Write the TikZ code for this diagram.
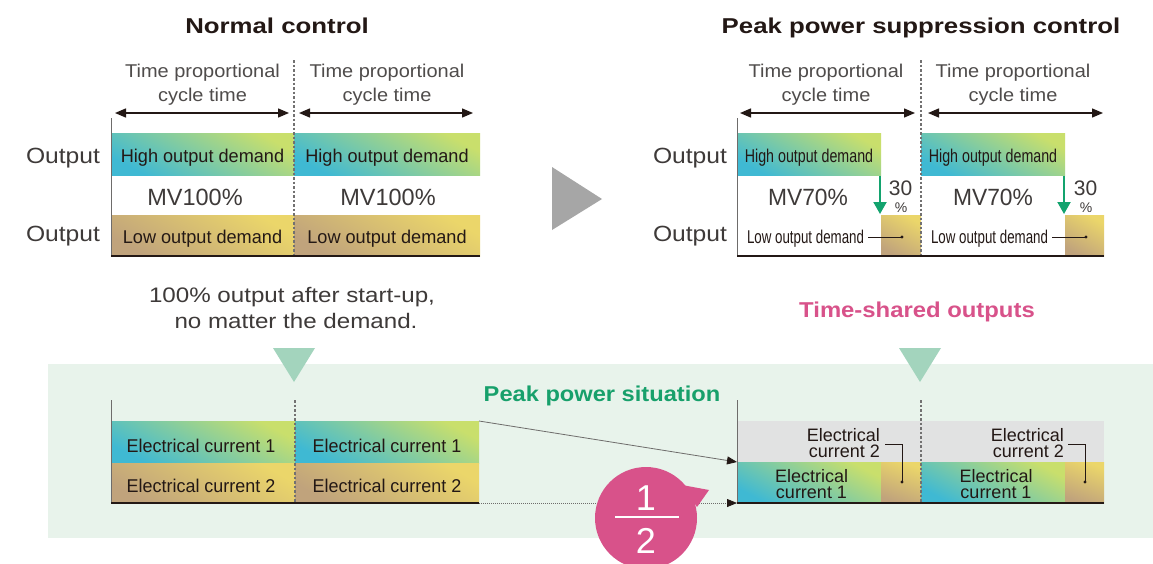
\documentclass[tikz,border=0pt]{standalone}
\usepackage{fontspec}
\setmainfont{Liberation Sans}
\usepackage{graphicx}
\usetikzlibrary{arrows.meta}
\definecolor{txtc}{HTML}{3E3A39}
\definecolor{dark}{HTML}{231815}
\definecolor{cycc}{HTML}{4F4C4B}
\definecolor{axisc}{HTML}{6E6C6B}
\definecolor{cyanc}{HTML}{3FB9D3}
\definecolor{limec}{HTML}{C9DF6C}
\definecolor{tanc}{HTML}{C0A37C}
\definecolor{yelc}{HTML}{EBD66A}
\definecolor{greyband}{HTML}{E1E2E2}
\definecolor{bandc}{HTML}{E8F3EB}
\definecolor{trigreen}{HTML}{A3D4BD}
\definecolor{pinkc}{HTML}{D8528A}
\definecolor{greentxt}{HTML}{17A06B}
\definecolor{arrowgreen}{HTML}{13A36E}
\definecolor{greytri}{HTML}{A6A6A6}
\definecolor{divc}{HTML}{727171}
\newcommand\fs[1]{\fontsize{#1}{#1}\selectfont}
\newcommand\hx[2]{\scalebox{#1}[1]{#2}}
\tikzset{
  barbase/.style={rectangle, draw=none, inner sep=0pt, outer sep=0pt, anchor=north west},
  hibar/.style={barbase, bottom color=cyanc, top color=limec, shading angle=-28},
  lobar/.style={barbase, bottom color=tanc, top color=yelc, shading angle=-30},
  c2blk/.style={barbase, bottom color=tanc, top color=yelc, shading angle=-20},
  gband/.style={barbase, fill=greyband},
  txt/.style={inner sep=0pt, anchor=base, text=txtc},
  ttl/.style={txt, text=dark, font=\bfseries\fs{21.5}},
  cyc/.style={txt, text=cycc, font=\fs{18.5}},
  outlbl/.style={txt, text=txtc, font=\fs{22}},
  mvlbl/.style={txt, text=txtc, font=\fs{23.5}},
  barlbl/.style={txt, text=dark, font=\fs{18.5}},
  curlbl/.style={inner sep=0pt, text=dark, font=\fontsize{18}{16}\selectfont},
  axisline/.style={draw=axisc, line width=1pt},
  baseln/.style={draw=dark, line width=1.4pt},
  divider/.style={draw=divc, line width=1.2pt, dash pattern=on 2.5pt off 2pt},
  dblarrow/.style={draw=dark, line width=1.4pt, {Triangle[length=11pt,width=9pt]}-{Triangle[length=11pt,width=9pt]}},
  garrow/.style={draw=arrowgreen, line width=2pt, -{Triangle[length=12pt,width=13pt]}},
  leader/.style={draw=dark, line width=0.8pt},
  linkarrow/.style={draw=axisc, line width=0.8pt, -{Triangle[length=10pt,width=8pt,color=dark]}},
  dotlink/.style={draw=axisc, line width=0.8pt, dash pattern=on 1pt off 1pt, -{Triangle[length=10pt,width=8pt,color=dark]}},
}
\begin{document}
\begin{tikzpicture}[x=1pt,y=-1pt]
\useasboundingbox (0,0) rectangle (1153,563);
\fill[white] (0,0) rectangle (1153,563);

% ---------- titles ----------
\node[ttl] (t1) at (277,33) {\hx{1.2}{Normal control}};
\node[ttl] (t2) at (921,33) {\hx{1.2}{Peak power suppression control}};

% ---------- top left chart ----------
\node[cyc] (cl1) at (202.5,77) {\hx{1.08}{Time proportional}};
\node[cyc] (cl2) at (202.5,101) {\hx{1.08}{cycle time}};
\node[cyc] (cl3) at (387,77) {\hx{1.08}{Time proportional}};
\node[cyc] (cl4) at (387,101) {\hx{1.08}{cycle time}};
\coordinate (la1) at (115,113); \coordinate (la2) at (289,113);
\coordinate (la3) at (299,113); \coordinate (la4) at (473,113);
\draw[dblarrow] (la1) -- (la2);
\draw[dblarrow] (la3) -- (la4);

\node[hibar, minimum width=183, minimum height=42] (lh1) at (111,133) {};
\node[hibar, minimum width=186, minimum height=42] (lh2) at (294,133) {};
\node[lobar, minimum width=183, minimum height=41] (ll1) at (111,215) {};
\node[lobar, minimum width=186, minimum height=41] (ll2) at (294,215) {};
\node[barlbl] (lht1) at (202.5,162) {\hx{0.98}{High output demand}};
\node[barlbl] (lht2) at (387,162) {\hx{0.98}{High output demand}};
\node[barlbl] (llt1) at (202.5,243) {\hx{0.98}{Low output demand}};
\node[barlbl] (llt2) at (387,243) {\hx{0.98}{Low output demand}};
\node[mvlbl] (mv1) at (195,205) {MV100\%};
\node[mvlbl] (mv2) at (388,205) {MV100\%};
\node[outlbl] (o1) at (63,163) {\hx{1.12}{Output}};
\node[outlbl] (o2) at (63,241) {\hx{1.12}{Output}};
\coordinate (lax) at (111,118);
\coordinate (ld) at (294,60);
\draw[divider] (ld) -- (lh2.north west |- ll2.south west);
\draw[axisline] (lax) -- (ll1.south west);
\draw[baseln] (ll1.south west) -- (ll2.south east);

% ---------- middle grey arrow ----------
\fill[greytri] (552,167) -- (602,199) -- (552,230) -- cycle;

% ---------- top right chart ----------
\node[cyc] (cr1) at (826,77) {\hx{1.08}{Time proportional}};
\node[cyc] (cr2) at (826,101) {\hx{1.08}{cycle time}};
\node[cyc] (cr3) at (1013,77) {\hx{1.08}{Time proportional}};
\node[cyc] (cr4) at (1013,101) {\hx{1.08}{cycle time}};
\coordinate (ra1) at (740,113); \coordinate (ra2) at (915,113);
\coordinate (ra3) at (928,113); \coordinate (ra4) at (1103,113);
\draw[dblarrow] (ra1) -- (ra2);
\draw[dblarrow] (ra3) -- (ra4);

\node[hibar, minimum width=144, minimum height=42] (rh1) at (737,133) {};
\node[hibar, minimum width=144, minimum height=42] (rh2) at (921,133) {};
\node[lobar, minimum width=40, minimum height=41] (rl1) at (881,215) {};
\node[lobar, minimum width=39, minimum height=41] (rl2) at (1065,215) {};
\node[barlbl] (rht1) at (809,162) {\hx{0.77}{High output demand}};
\node[barlbl] (rht2) at (993,162) {\hx{0.77}{High output demand}};
\node[barlbl] (rlt1) at (805.5,243) {\hx{0.72}{Low output demand}};
\node[barlbl] (rlt2) at (989.5,243) {\hx{0.72}{Low output demand}};
\node[mvlbl] (mv3) at (808,205) {\hx{0.97}{MV70\%}};
\node[mvlbl] (mv4) at (993,205) {\hx{0.97}{MV70\%}};
\node[outlbl] (o3) at (690,163) {\hx{1.12}{Output}};
\node[outlbl] (o4) at (690,241) {\hx{1.12}{Output}};
\node[txt, font=\fs{21}] (p1) at (900.5,195) {30};
\node[txt, font=\fs{14}] (p2) at (901,212) {\%};
\node[txt, font=\fs{21}] (p3) at (1085.5,195) {30};
\node[txt, font=\fs{14}] (p4) at (1086,212) {\%};
\coordinate (g1a) at (880,176); \coordinate (g1b) at (880,214);
\coordinate (g2a) at (1064,176); \coordinate (g2b) at (1064,214);
\draw[garrow] (g1a) -- (g1b);
\draw[garrow] (g2a) -- (g2b);
\coordinate (ld1) at (868,237); \coordinate (ld1e) at (902,237);
\coordinate (ld2) at (1052,237); \coordinate (ld2e) at (1086,237);
\draw[leader] (ld1) -- (ld1e); \fill[dark] (ld1e) circle (1.7);
\draw[leader] (ld2) -- (ld2e); \fill[dark] (ld2e) circle (1.7);
\coordinate (rax) at (737,118);
\coordinate (rd) at (921,60);
\draw[divider] (rd) -- (rd |- rl1.south east);
\draw[axisline] (rax) -- (737,256);
\draw[baseln] (737,256) -- (rl2.south east);

% ---------- captions ----------
\node[txt, font=\fs{21}] (n1) at (292,302) {\hx{1.15}{100\% output after start-up,}};
\node[txt, font=\fs{21}] (n2) at (296,328) {\hx{1.15}{no matter the demand.}};
\node[txt, text=pinkc, font=\bfseries\fs{21.5}] (ts) at (917,317) {\hx{1.11}{Time-shared outputs}};

% ---------- lower band ----------
\fill[bandc] (48,364) rectangle (1153,538);
\fill[trigreen] (273,348) -- (315,348) -- (294,382) -- cycle;
\fill[trigreen] (899,348) -- (941,348) -- (920,382) -- cycle;
\node[txt, text=greentxt, font=\bfseries\fs{21.5}] (pp) at (602,401) {\hx{1.1}{Peak power situation}};

% bottom left chart
\node[hibar, minimum width=184, minimum height=42] (lc1a) at (111,421) {};
\node[hibar, minimum width=184, minimum height=42] (lc1b) at (295,421) {};
\node[lobar, minimum width=184, minimum height=40] (lc2a) at (111,463) {};
\node[lobar, minimum width=184, minimum height=40] (lc2b) at (295,463) {};
\node[barlbl] (e1) at (201,452) {\hx{0.97}{Electrical current 1}};
\node[barlbl] (e2) at (387,452) {\hx{0.97}{Electrical current 1}};
\node[barlbl] (e3) at (201,492) {\hx{0.97}{Electrical current 2}};
\node[barlbl] (e4) at (387,492) {\hx{0.97}{Electrical current 2}};
\coordinate (bax) at (111,400);
\coordinate (bd) at (295,400);
\draw[divider] (bd) -- (lc2b.south west);
\draw[axisline] (bax) -- (lc2a.south west);
\draw[baseln] (lc2a.south west) -- (lc2b.south east);

% bottom right chart
\node[gband, minimum width=367, minimum height=41] (gb) at (737,421) {};
\node[hibar, minimum width=144, minimum height=41] (rc1a) at (737,462) {};
\node[hibar, minimum width=144, minimum height=41] (rc1b) at (921,462) {};
\node[c2blk, minimum width=40, minimum height=41] (rc2a) at (881,462) {};
\node[c2blk, minimum width=39, minimum height=41] (rc2b) at (1065,462) {};
\node[curlbl, align=right, anchor=south east] (f1) at (880,458) {Electrical\\current 2};
\node[curlbl, align=center, anchor=south] (f3) at (811.5,499) {Electrical\\current 1};
\node[curlbl, align=right, anchor=south east] (f5) at (1064,458) {Electrical\\current 2};
\node[curlbl, align=center, anchor=south] (f7) at (996,499) {Electrical\\current 1};
\coordinate (k1) at (885,444); \coordinate (k1m) at (902,444); \coordinate (k1e) at (902,482);
\coordinate (k2) at (1068,444); \coordinate (k2m) at (1085,444); \coordinate (k2e) at (1085,482);
\draw[leader] (k1) -- (k1m) -- (k1e); \fill[dark] (k1e) circle (1.7);
\draw[leader] (k2) -- (k2m) -- (k2e); \fill[dark] (k2e) circle (1.7);
\coordinate (bdr) at (921,400);
\draw[divider] (bdr) -- (rc1b.south west);
\coordinate (brax) at (737,400);
\draw[axisline] (brax) -- (rc1a.south west);
\draw[baseln] (rc1a.south west) -- (rc2b.south east);

% links
\draw[linkarrow] (lc1b.north east) -- (rc1a.north west);
\draw[dotlink] (lc2b.south east) -- (rc1a.south west);

% bubble 1/2
\fill[pinkc] (646,518) circle (51);
\fill[pinkc] (682,485) -- (709,490) -- (697,507) -- cycle;
\node[txt, text=white, font=\fs{36}] (h1) at (646,510) {1};
\coordinate (fr1) at (615,517); \coordinate (fr2) at (679,517);
\draw[white, line width=2pt] (fr1) -- (fr2);
\node[txt, text=white, font=\fs{36}] (h2) at (646,553) {2};
\end{tikzpicture}
\end{document}
